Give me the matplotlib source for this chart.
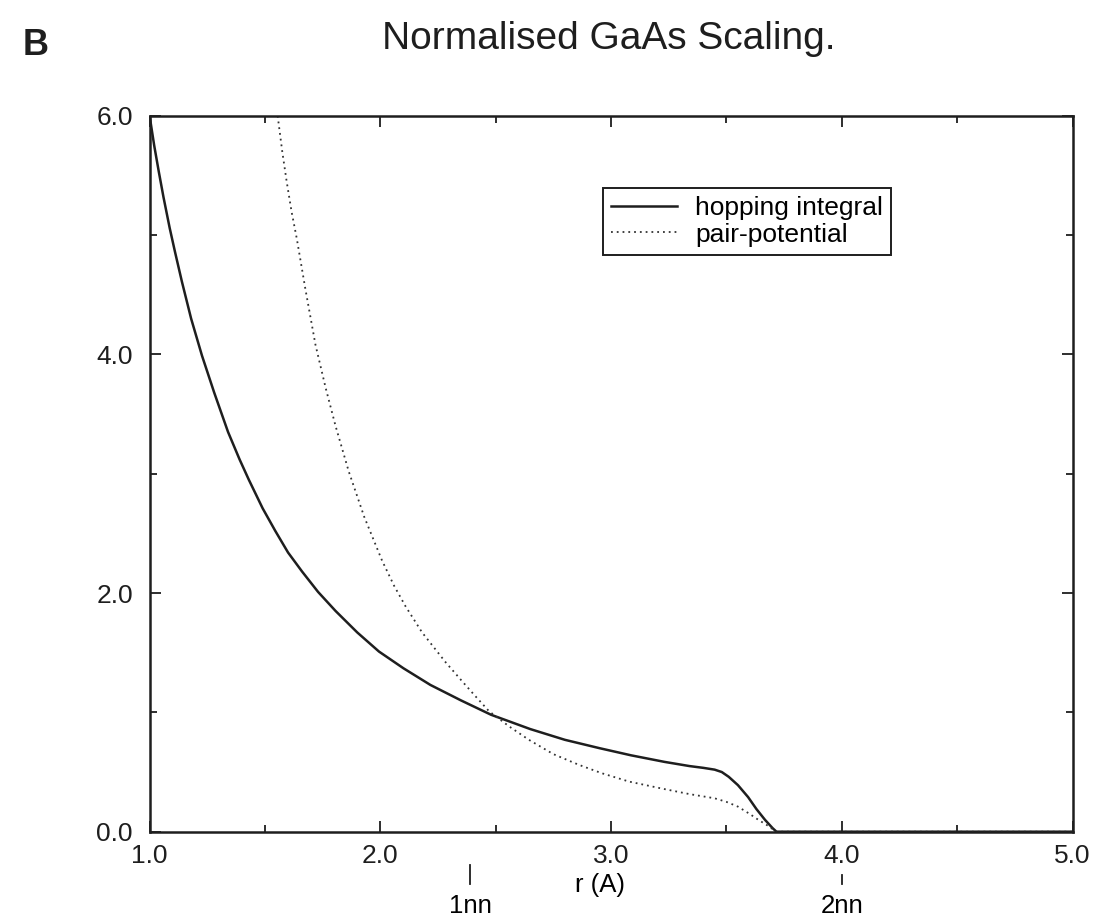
import matplotlib
matplotlib.use('Agg')
from matplotlib import pyplot as plt
from matplotlib.ticker import MultipleLocator, FormatStrFormatter

plt.rcParams['font.family'] = ['Liberation Sans', 'DejaVu Sans']

# hopping integral (solid)
r_hop = [1.00, 1.02, 1.04, 1.06, 1.087, 1.11, 1.14, 1.18, 1.227, 1.28,
         1.34, 1.39, 1.43, 1.49, 1.545, 1.60, 1.661, 1.73, 1.806, 1.90,
         1.994, 2.10, 2.217, 2.35, 2.48, 2.65, 2.80, 2.95, 3.087, 3.232,
         3.34, 3.40, 3.449, 3.48, 3.51, 3.55, 3.594, 3.63, 3.667, 3.70,
         3.717, 5.0]
v_hop = [6.00, 5.75, 5.53, 5.32, 5.06, 4.86, 4.61, 4.30, 3.99, 3.68,
         3.35, 3.12, 2.95, 2.71, 2.52, 2.34, 2.18, 2.01, 1.85, 1.67,
         1.51, 1.37, 1.23, 1.10, 0.98, 0.86, 0.77, 0.70, 0.64, 0.585,
         0.55, 0.535, 0.52, 0.50, 0.46, 0.39, 0.29, 0.19, 0.10, 0.03,
         0.0, 0.0]

# pair potential (dotted)
r_pair = [1.555, 1.575, 1.594, 1.615, 1.638, 1.675, 1.719, 1.763, 1.806,
          1.863, 1.930, 2.008, 2.06, 2.109, 2.181, 2.283, 2.355, 2.41,
          2.471, 2.56, 2.644, 2.75, 2.861, 2.96, 3.078, 3.224, 3.34, 3.449,
          3.50, 3.55, 3.60, 3.638, 3.68, 3.717, 5.0]
v_pair = [6.00, 5.70, 5.45, 5.20, 4.97, 4.55, 4.08, 3.72, 3.40,
          3.02, 2.64, 2.27, 2.06, 1.89, 1.67, 1.42, 1.26, 1.14,
          1.01, 0.88, 0.77, 0.65, 0.56, 0.49, 0.42, 0.36, 0.315, 0.28,
          0.25, 0.21, 0.15, 0.10, 0.05, 0.0, 0.0]

nn_pos = [2.39, 4.0]
nn_labels = ['1nn', '2nn']

fig = plt.figure(figsize=(11, 9.19), dpi=100)
ax = fig.add_axes([0.136, 0.095, 0.839, 0.779])

ax.plot(r_hop, v_hop, color='#1e1e1e', lw=1.8, label='hopping integral')
ax.plot(r_pair, v_pair, color='#333333', lw=1.3, linestyle=(0, (1, 2.2)),
        label='pair-potential')

ax.set_xlim(1.0, 5.0)
ax.set_ylim(0.0, 6.0)
ax.xaxis.set_major_locator(MultipleLocator(1.0))
ax.xaxis.set_minor_locator(MultipleLocator(0.5))
ax.yaxis.set_major_locator(MultipleLocator(2.0))
ax.yaxis.set_minor_locator(MultipleLocator(1.0))
ax.xaxis.set_major_formatter(FormatStrFormatter('%.1f'))
ax.yaxis.set_major_formatter(FormatStrFormatter('%.1f'))
ax.tick_params(which='both', direction='in', top=True, right=True,
               width=1.3, colors='#1e1e1e')
ax.tick_params(which='major', length=8, labelsize=19)
ax.tick_params(which='minor', length=5)
ax.tick_params(axis='x', pad=9)
ax.tick_params(axis='y', pad=12)
for s in ax.spines.values():
    s.set_linewidth(1.8)
    s.set_color('#1e1e1e')

leg = ax.legend(loc='upper left', bbox_to_anchor=(0.491, 0.899),
                borderaxespad=0, fancybox=False, framealpha=1,
                edgecolor='#1e1e1e', fontsize=19, handlelength=2.5,
                handletextpad=0.7, borderpad=0.3, labelspacing=0.1)
leg.get_frame().set_linewidth(1.4)

trans = ax.get_xaxis_transform()
ax.text(2.95, -0.075, 'r (A)', transform=trans, ha='center', va='center',
        fontsize=18.5)
for x, lab in zip(nn_pos, nn_labels):
    top = -0.047 if lab == '1nn' else -0.061
    ax.plot([x, x], [top, -0.073], transform=trans, color='#1e1e1e',
            lw=1.3, clip_on=False)
    ax.text(x, -0.104, lab, transform=trans, ha='center', va='center',
            fontsize=18.5)

fig.text(0.553, 0.958, 'Normalised GaAs Scaling.', ha='center', va='center',
         fontsize=28, color='#1e1e1e')
fig.text(0.032, 0.951, 'B', ha='center', va='center', fontsize=26,
         fontweight='bold', color='#1e1e1e')

fig.savefig('out.png', dpi=100)
